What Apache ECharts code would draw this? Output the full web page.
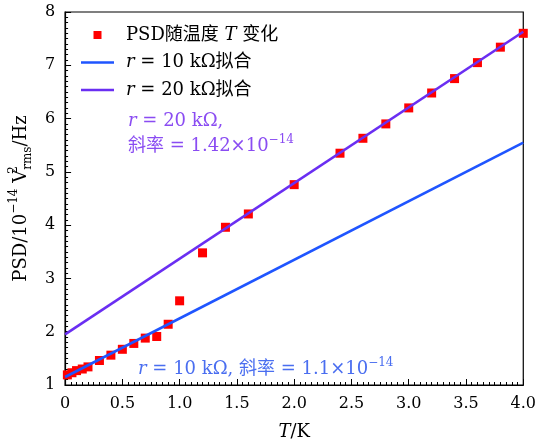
<!DOCTYPE html>
<html>
<head>
<meta charset="utf-8">
<script src="https://cdn.jsdelivr.net/npm/echarts@6/dist/echarts.min.js"></script>
<style>
html, body { margin: 0; padding: 0; background: #fff; }
#chart { width: 539px; height: 446px; }
</style>
</head>
<body>
<div id="chart"></div>
<script>
// Measured noise power spectral density versus temperature
const temperature = [0.02, 0.06, 0.10, 0.15, 0.20, 0.30, 0.40, 0.50, 0.60, 0.70, 0.80, 0.90,
                     1.00, 1.20, 1.40, 1.60, 2.00, 2.40, 2.60, 2.80, 3.00, 3.20, 3.40, 3.60, 3.80, 4.00];
const psd = [1.19, 1.23, 1.27, 1.30, 1.34, 1.46, 1.56, 1.67, 1.78, 1.88, 1.91, 2.14,
             2.58, 3.48, 3.96, 4.21, 4.76, 5.35, 5.63, 5.90, 6.20, 6.48, 6.75, 7.05, 7.34, 7.60];

// Linear fits (end points over the temperature range)
const fitT = [0, 4];
const fit10k = [1.15, 5.55];
const fit20k = [1.95, 7.63];

// Series names and their legend text
const seriesNames = ['PSD', 'fit10', 'fit20'];
const legendText = {
  PSD: '{n|PSD随温度 }{i|T}{n| 变化}',
  fit10: '{i|r}{n| = 10 kΩ拟合}',
  fit20: '{i|r}{n| = 20 kΩ拟合}'
};

const FONT = "'DejaVu Serif', 'Noto Sans CJK SC', serif";
const FS = 18;      // titles, legend, annotations
const TICK_FS = 16; // tick labels
const SUP_FS = 12;
const RED = '#ff0000';
const BLUE = '#1f55ff';
const PURPLE = '#6a2ef2';
const BLUE_TEXT = '#4a6ef0';
const PURPLE_TEXT = '#8a4cf2';

function richFor(color) {
  return {
    n: { fontFamily: FONT, fontSize: FS, color: color, fill: color, lineHeight: 24, verticalAlign: 'middle' },
    i: { fontFamily: FONT, fontSize: FS, fontStyle: 'italic', color: color, fill: color, lineHeight: 24, verticalAlign: 'middle' },
    sup: { fontFamily: FONT, fontSize: SUP_FS, color: color, fill: color, verticalAlign: 'top' }
  };
}

const chart = echarts.init(document.getElementById('chart'), null, { renderer: 'canvas' });

chart.setOption({
  animation: false,
  backgroundColor: '#fff',
  grid: {
    left: 62, right: 8, top: 12, bottom: 61,
    show: true, borderColor: '#000', borderWidth: 1.2, backgroundColor: 'transparent'
  },
  legend: {
    data: [
      { name: 'PSD', icon: 'path://M0,0h10v10h-10z' },
      { name: 'fit10', icon: 'path://M0,0h33v2.6h-33z' },
      { name: 'fit20', icon: 'path://M0,0h33v2.6h-33z' }
    ],
    orient: 'vertical',
    left: 81, top: 25,
    padding: 0,
    itemWidth: 33, itemHeight: 8, itemGap: 7.5,
    symbolKeepAspect: true,
    formatter: name => legendText[name],
    textStyle: {
      fontFamily: FONT, fontSize: FS, color: '#000', lineHeight: 20, padding: [0, 0, 0, 7],
      rich: {
        n: { fontFamily: FONT, fontSize: FS, color: '#000', lineHeight: 20 },
        i: { fontFamily: FONT, fontSize: FS, fontStyle: 'italic', color: '#000', lineHeight: 20 }
      }
    }
  },
  xAxis: {
    type: 'value', min: 0, max: 4, interval: 0.5,
    name: '{i|T}{n|/K}', nameLocation: 'middle', nameGap: 38,
    nameTextStyle: {
      rich: {
        n: { fontFamily: FONT, fontSize: FS, color: '#000' },
        i: { fontFamily: FONT, fontSize: FS, fontStyle: 'italic', color: '#000' }
      }
    },
    axisLine: { show: true, lineStyle: { color: '#000', width: 1.2 } },
    axisTick: { show: true, inside: true, length: 6, lineStyle: { color: '#000', width: 1 } },
    minorTick: { show: true, splitNumber: 10, length: 3, lineStyle: { color: '#000', width: 1 } },
    splitLine: { show: false },
    axisLabel: {
      margin: 11, color: '#000', fontFamily: FONT, fontSize: TICK_FS,
      formatter: v => (v === 0 ? '0' : v.toFixed(1))
    }
  },
  yAxis: {
    type: 'value', min: 1, max: 8, interval: 1,
    name: '{n|PSD/10}{sup|−14}{n| V}{sup2|2}{sub|rms}{n|/Hz}',
    nameLocation: 'middle', nameGap: 30, nameRotate: 90,
    nameTextStyle: {
      rich: {
        n: { fontFamily: FONT, fontSize: FS, color: '#000', lineHeight: 26, verticalAlign: 'middle' },
        sup: { fontFamily: FONT, fontSize: SUP_FS, color: '#000', verticalAlign: 'top' },
        sup2: { fontFamily: FONT, fontSize: SUP_FS, color: '#000', verticalAlign: 'top', width: 0 },
        sub: { fontFamily: FONT, fontSize: SUP_FS, color: '#000', verticalAlign: 'bottom' }
      }
    },
    axisLine: { show: true, lineStyle: { color: '#000', width: 1.2 } },
    axisTick: { show: true, inside: true, length: 6, lineStyle: { color: '#000', width: 1 } },
    minorTick: { show: true, splitNumber: 10, length: 3, lineStyle: { color: '#000', width: 1 } },
    splitLine: { show: false },
    axisLabel: { margin: 10, color: '#000', fontFamily: FONT, fontSize: TICK_FS }
  },
  series: [
    {
      name: seriesNames[0], type: 'scatter', symbol: 'rect', symbolSize: 9, z: 2,
      itemStyle: { color: RED, opacity: 1 },
      data: temperature.map((t, i) => [t, psd[i]])
    },
    {
      name: seriesNames[1], type: 'line', symbol: 'none', z: 3,
      lineStyle: { color: BLUE, width: 2.6 }, itemStyle: { color: BLUE },
      data: fitT.map((t, i) => [t, fit10k[i]])
    },
    {
      name: seriesNames[2], type: 'line', symbol: 'none', z: 3,
      lineStyle: { color: PURPLE, width: 2.6 }, itemStyle: { color: PURPLE },
      data: fitT.map((t, i) => [t, fit20k[i]])
    }
  ],
  graphic: [
    {
      type: 'text', left: 128, top: 112, z: 10,
      style: { text: '{i|r}{n| = 20 kΩ,}', rich: richFor(PURPLE_TEXT), fill: PURPLE_TEXT }
    },
    {
      type: 'text', left: 128, top: 134, z: 10,
      style: { text: '{n|斜率 = 1.42×10}{sup|−14}', rich: richFor(PURPLE_TEXT), fill: PURPLE_TEXT }
    },
    {
      type: 'text', left: 138, top: 357, z: 10,
      style: { text: '{i|r}{n| = 10 kΩ, 斜率 = 1.1×10}{sup|−14}', rich: richFor(BLUE_TEXT), fill: BLUE_TEXT }
    }
  ]
});
</script>
</body>
</html>
